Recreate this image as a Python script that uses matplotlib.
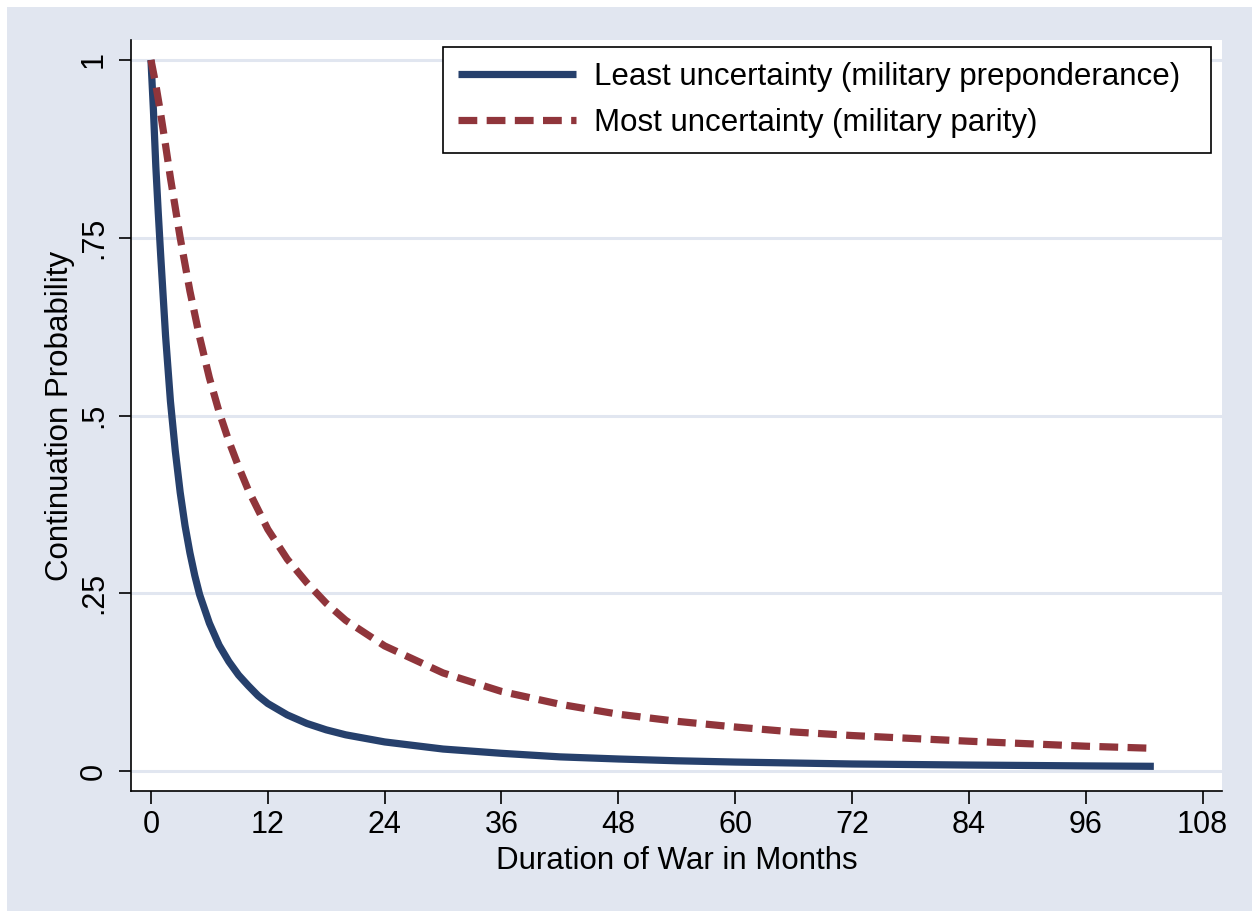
import matplotlib
matplotlib.use("Agg")
import matplotlib.pyplot as plt
from matplotlib.patches import Rectangle

plt.rcParams["font.family"] = ["Liberation Sans", "DejaVu Sans"]

# values
months_least = [0, 0.25, 0.5, 0.75, 1, 1.5, 2, 2.5, 3, 3.5, 4, 4.5, 5, 6, 7, 8, 9, 10,
                11, 12, 14, 16, 18, 20, 24, 30, 36, 42, 48, 54, 60, 72, 84, 96, 103]
prob_least = [1.00, 0.93, 0.85, 0.785, 0.725, 0.612, 0.52, 0.45, 0.392, 0.345,
              0.307, 0.275, 0.248, 0.208, 0.177, 0.154, 0.135, 0.120,
              0.106, 0.095, 0.079, 0.067, 0.058, 0.051,
              0.041, 0.031, 0.025, 0.020, 0.017, 0.0145, 0.0127, 0.010,
              0.0085, 0.0073, 0.0067]

months_most = [0, 0.5, 1, 1.5, 2, 3, 4, 5, 6, 7, 8, 9, 10, 12, 14, 16, 18, 20, 24, 30,
               36, 42, 48, 54, 60, 66, 72, 84, 96, 103]
prob_most = [1.00, 0.965, 0.924, 0.88, 0.834, 0.75, 0.675, 0.61, 0.553, 0.505, 0.464,
             0.428, 0.395, 0.34, 0.298, 0.265, 0.236, 0.212, 0.176, 0.138,
             0.112, 0.094, 0.080, 0.070, 0.062, 0.055, 0.050, 0.042, 0.035, 0.032]

x_ticks = [0, 12, 24, 36, 48, 60, 72, 84, 96, 108]
y_ticks = [0, 0.25, 0.5, 0.75, 1]
y_tick_labels = ["0", ".25", ".5", ".75", "1"]

bg = "#e1e6f0"
navy = "#26406c"
maroon = "#90353b"

fig = plt.figure(figsize=(12.52, 9.11), dpi=100)
fig.patch.set_facecolor("white")
fig.patches.append(Rectangle((7 / 1252, 0), 1, 1 - 7 / 911, transform=fig.transFigure,
                             facecolor=bg, edgecolor="none", zorder=-10))

ax = fig.add_axes([131 / 1252, 120 / 911, 1091 / 1252, 751 / 911])
ax.set_facecolor("white")

ax.plot(months_least, prob_least, color=navy, lw=5.2, solid_capstyle="butt",
        solid_joinstyle="round", label="Least uncertainty (military preponderance)", zorder=3)
ax.plot(months_most, prob_most, color=maroon, lw=5.2, linestyle=(0, (2.6, 1.3)),
        dash_capstyle="butt", label="Most uncertainty (military parity)", zorder=3)

ax.set_xlim(-2.05, 110.0)
ax.set_ylim(-0.028, 1.028)

ax.set_xticks(x_ticks)
ax.set_yticks(y_ticks)
ax.set_yticklabels(y_tick_labels, rotation=90, va="center")
ax.tick_params(axis="both", length=9, width=1.2, labelsize=22, color="black")
ax.tick_params(axis="x", pad=5)
ax.tick_params(axis="y", pad=7)

ax.grid(axis="y", color=bg, lw=2.2)
ax.set_axisbelow(True)

for s in ["top", "right"]:
    ax.spines[s].set_visible(False)
for s in ["left", "bottom"]:
    ax.spines[s].set_linewidth(1.2)

ax.set_xlabel("Duration of War in Months", fontsize=22.5, labelpad=4)
ax.set_ylabel("Continuation Probability", fontsize=22.5, labelpad=3)

leg = ax.legend(loc="upper left", bbox_to_anchor=(0.286, 0.5, 0.704, 0.4907),
                mode="expand", borderaxespad=0, fontsize=22.5, handlelength=3.78,
                handletextpad=0.58, labelspacing=0.52, borderpad=0.48,
                fancybox=False, framealpha=1, edgecolor="black")
leg.get_frame().set_linewidth(1.2)

fig.savefig("out.png", dpi=100)
